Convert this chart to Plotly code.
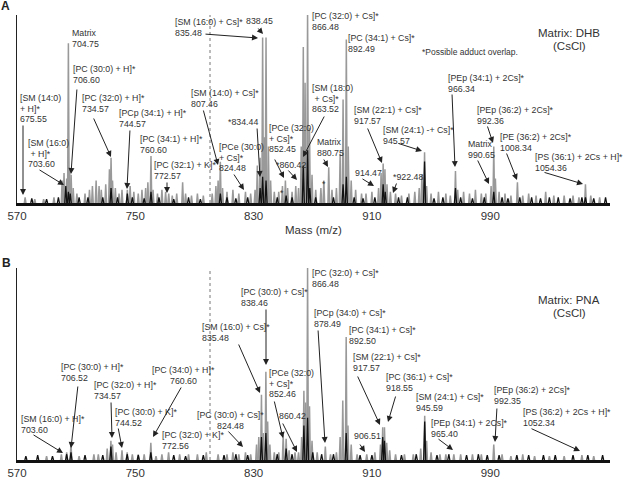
import plotly.graph_objects as go
from plotly.subplots import make_subplots

# ---------------- data ----------------
tick_vals = [670, 750, 830, 910, 990, 1071]
tick_text = ["570", "750", "830", "910", "990", "1,071"]

# Panel A (DHB) - grey spectrum peaks
a_gray_mz = [675.5, 682, 688, 695, 700.5, 701.8, 703.6, 704.75, 705.6, 706.6, 708, 710.5,
             716, 719, 721, 723.5, 725.5, 727, 730, 732.5, 733.6, 734.6, 736.5, 739, 741, 744.6,
             746.5, 749, 752, 754.5, 757, 758.5, 760.6, 762, 765, 768, 770.5, 772.6, 775, 778,
             782, 784, 788, 792, 796, 802, 804.5, 806, 807.5, 809, 812, 816, 820, 824.5, 828,
             831, 832.5, 834.4, 836.1, 837.2, 838.4, 840, 841.5, 844, 847, 849.5, 851.5, 853,
             856, 858.5, 860.4, 862.2, 863.6, 864.8, 866.5, 867.8, 869.5, 872, 875.5, 877.5,
             880.8, 883, 886, 888.5, 890.5, 892.7, 894, 896, 899, 903, 906, 910, 914.5, 916.2,
             917.6, 918.8, 920.2, 922.5, 926, 930, 935, 939, 942, 943.8, 945.6, 947, 950, 955,
             960, 963, 966.5, 968, 972, 976, 980, 984, 987, 990.6, 992.4, 993.5, 996, 1000,
             1004, 1008.4, 1012, 1016, 1021, 1027.5, 1033, 1040, 1046, 1050, 1054.4, 1058, 1064]
a_gray_int = [3, 2, 2, 3, 12, 16, 13, 85, 18, 15, 8, 5,
              5, 7, 9, 12, 9, 7, 10, 18, 24, 12, 8, 5, 7, 7,
              9, 6, 5, 7, 8, 11, 25, 7, 5, 7, 6, 5, 4, 5,
              11, 5, 4, 5, 4, 5, 9, 12, 22, 8, 6, 7, 5, 6, 5,
              7, 20, 24, 88, 35, 88, 30, 12, 6, 6, 9, 12, 8,
              6, 9, 8, 30, 83, 64, 103, 40, 15, 7, 8, 12,
              19, 7, 8, 26, 55, 87, 30, 12, 7, 5, 5, 6, 8, 16,
              21, 18, 10, 6, 5, 4, 5, 6, 8, 15, 27, 9, 5, 6,
              5, 4, 17, 7, 6, 5, 7, 5, 5, 9, 30, 13, 6, 5,
              4, 11, 4, 5, 4, 6, 4, 4, 4, 3, 10, 4, 3]

# Panel A - black spectrum peaks
a_black_mz = [680, 690, 698, 703, 704.75, 706, 712, 718, 728, 733.6, 738, 744.6, 748, 756,
              760.6, 766, 776, 786, 794, 807.5, 812, 818, 826, 834.4, 836.1, 838.4, 846, 852,
              856, 863.6, 866.5, 868, 872, 884, 890.5, 892.7, 898, 904, 912, 917.6, 919, 928,
              934, 945.6, 952, 958, 966.5, 970, 978, 986, 992.4, 998, 1002, 1010, 1018, 1024,
              1030, 1036, 1044, 1052, 1054.4, 1060, 1068]
a_black_int = [2.5, 2, 3, 9, 6, 5, 3, 3, 3, 8, 3, 5, 3, 2.5,
               6, 3, 2, 3, 2, 5, 3, 2.5, 3, 8, 14, 12, 3, 4,
               3, 20, 28, 8, 3, 3, 10, 14, 3, 2.5, 3, 10, 6, 3,
               3, 22, 2.5, 3, 8, 3, 2.5, 3, 6, 3, 2.5, 3, 3, 2.5,
               3, 3, 2.5, 3, 3, 2.5, 3]

# Panel B (PNA) - grey spectrum peaks
b_gray_mz = [690, 700, 703.6, 706.5, 712, 722, 725, 731, 733.5, 734.6, 737, 741, 744.5, 748,
             752, 756, 760.5, 764, 768, 772.5, 780, 786, 792, 798, 806, 812, 816, 820, 824.5,
             828, 832, 833.5, 835.3, 836.5, 838.3, 839.5, 841, 844, 847, 850, 852, 854, 858,
             860.4, 862.5, 864, 865.2, 866.5, 867.8, 869.5, 873, 878.5, 882, 886, 888.5, 890.3,
             892.6, 893.8, 896, 900, 906.5, 912, 915.8, 917.3, 918.5, 920, 922, 926, 932, 938,
             943, 945.7, 947, 950, 956, 960, 965.4, 970, 978, 984, 992.4, 998, 1004, 1012,
             1020, 1030, 1040, 1052, 1060]
b_gray_int = [2, 3, 4, 9, 2, 3, 3, 6, 10, 8, 4, 5, 4, 3,
              3, 3, 9, 2, 3, 4, 3, 3, 3, 4, 3, 3, 4, 3, 4,
              3, 8, 12, 34, 14, 46, 20, 8, 4, 4, 13, 11, 5, 4,
              4, 12, 36, 30, 100, 28, 10, 4, 7, 3, 4, 12, 31,
              64, 18, 8, 3, 3, 4, 8, 17, 17, 9, 5, 3, 3, 3,
              6, 23, 10, 4, 3, 3, 3, 3, 3, 3, 8, 3, 2, 3,
              2, 2, 2, 2.5, 2]

# Panel B - black spectrum peaks
b_black_mz = [676, 684, 694, 703.6, 706.5, 716, 728, 733.5, 744.5, 752, 760.5, 776, 784, 796,
              810, 818, 826, 835.3, 838.3, 846, 852, 856, 864, 866.5, 870, 876, 884, 892.6,
              902, 910, 917.3, 918.5, 930, 940, 945.7, 954, 962, 974, 982, 988, 996, 1008,
              1016, 1026, 1034, 1046, 1056, 1066]
b_black_int = [2, 2.5, 2, 3, 4, 2.5, 2.5, 7, 3, 2.5, 4, 2.5, 2, 2.5,
               2.5, 3, 2.5, 12, 14, 3, 6, 3, 18, 22, 4, 3, 3, 14,
               2.5, 2.5, 12, 10, 2.5, 3, 20, 2.5, 3, 2.5, 3, 2.5, 2.5, 2.5,
               2.5, 2.5, 2.5, 2.5, 2.5, 2.5]

# Peak annotation texts (one list entry per text line)
a_label_text = [
    ["[SM (14:0)", "+ H]*", "675.55"],
    ["Matrix", "704.75"],
    ["[PC (30:0) + H]*", "706.60"],
    ["[SM (16:0)", " + H]*", "703.60"],
    ["[PC (32:0) + H]*", "734.57"],
    ["[PCp (34:1) + H]*", "744.57"],
    ["[PC (34:1) + H]*", "760.60"],
    ["[PC (32:1) + K]*", "772.57"],
    ["[SM (16:0) + Cs]*", "835.48"],
    ["[PC (30:0) + Cs]*", "838.45"],
    ["[PC (32:0) + Cs]*", "866.48"],
    ["[PC (34:1) + Cs]*", "892.49"],
    ["[SM (14:0) + Cs]*", "807.46"],
    ["*834.44"],
    ["[PCe (30:0)", "+ Cs]*", "824.48"],
    ["[PCe (32:0)", "+ Cs]*", "852.45"],
    ["*860.42"],
    ["[SM (18:0)", " + Cs]*", "863.52"],
    ["Matrix", "880.75"],
    ["[SM (22:1) + Cs]*", "917.57"],
    ["914.47"],
    ["*922.48"],
    ["[SM (24:1) -+ Cs]*", "945.57"],
    ["[PEp (34:1) + 2Cs]*", "966.34"],
    ["[PEp (36:2) + 2Cs]*", "992.36"],
    ["Matrix", "990.65"],
    ["[PE (36:2) + 2Cs]*", "1008.34"],
    ["[PS (36:1) + 2Cs + H]*", "1054.36"],
    ["*"],
    ["*"],
]
b_label_text = [
    ["[SM (16:0) + H]*", "703.60"],
    ["[PC (30:0) + H]*", "706.52"],
    ["[PC (32:0) + H]*", "734.57"],
    ["[PC (30:0) + K]*", "744.52"],
    ["[PC (34:0) + H]*", "760.60"],
    ["[PC (32:0) + K]*", "772.56"],
    ["[PC (30:0) + Cs]*", "824.48"],
    ["[SM (16:0) + Cs]*", "835.48"],
    ["[PC (30:0) + Cs]*", "838.46"],
    ["[PCe (32:0)", "+ Cs]*", "852.46"],
    ["860.42"],
    ["[PC (32:0) + Cs]*", "866.48"],
    ["[PCp (34:0) + Cs]*", "878.49"],
    ["[PC (34:1) + Cs]*", "892.50"],
    ["[SM (22:1) + Cs]*", "917.57"],
    ["[PC (36:1) + Cs]*", "918.55"],
    ["906.51"],
    ["[SM (24:1) + Cs]*", "945.59"],
    ["[PEp (34:1) + 2Cs]*", "965.40"],
    ["[PEp (36:2) + 2Cs]*", "992.35"],
    ["[PS (36:2) + 2Cs + H]*", "1052.34"],
]

# ---------------- layout (pixel placement of labels) ----------------
# (x_px, first_line_y_px, anchor, arrow_tail_px or None, arrow_head_px or None)
a_label_pos = [
    (19, 98, "left", (23, 124), (23, 195)),
    (71, 33, "left", None, None),
    (72, 69, "left", (77, 88), (71, 174)),
    (27, 143, "left", (38, 169), (64, 185)),
    (81, 98, "left", (93, 117), (111, 157)),
    (118, 113, "left", (130, 129), (127, 189)),
    (139, 139, "left", None, None),
    (153, 165, "left", (167, 181), (167, 193)),
    (174, 22, "left", (204, 34), (258, 38)),
    (245, 10, "left", (257, 27), (263, 34)),
    (311, 16, "left", None, None),
    (347, 38, "left", None, None),
    (190, 93, "left", (203, 109), (218, 165)),
    (227, 122, "left", (257, 127), (260, 177)),
    (218, 147, "left", (233, 173), (244, 190)),
    (268, 128, "left", (274, 158), (284, 178)),
    (275, 165, "left", (287, 169), (297, 180)),
    (311, 88, "left", (325, 115), (303, 157)),
    (316, 142, "left", (323, 158), (328, 167)),
    (353, 110, "left", (367, 127), (382, 163)),
    (354, 173, "left", (361, 178), (374, 186)),
    (392, 177, "left", (397, 182), (393, 193)),
    (382, 130, "left", (397, 143), (422, 151)),
    (447, 78, "left", (452, 93), (455, 167)),
    (476, 110, "left", (487, 125), (493, 143)),
    (467, 144, "left", (477, 159), (489, 184)),
    (499, 137, "left", (506, 152), (517, 180)),
    (534, 157, "left", (543, 172), (583, 184)),
    (279, 193, "left", None, None),
    (321, 184, "left", None, None),
]
b_label_pos = [
    (20, 419, "left", (32, 434), (63, 453)),
    (60, 367, "left", (78, 385), (71, 448)),
    (93, 385, "left", (111, 401), (112, 438)),
    (114, 412, "left", (118, 427), (122, 448)),
    (183, 370, "center", (182, 386), (153, 437)),
    (161, 435, "left", None, None),
    (230, 415, "center", (227, 430), (243, 447)),
    (201, 327, "left", (238, 343), (260, 393)),
    (240, 292, "left", (266, 308), (266, 365)),
    (268, 373, "left", (274, 400), (283, 438)),
    (278, 416, "left", (282, 422), (297, 452)),
    (311, 273, "left", None, None),
    (313, 313, "left", (318, 329), (325, 443)),
    (348, 330, "left", None, None),
    (352, 357, "left", (357, 375), (380, 425)),
    (385, 377, "left", (396, 395), (388, 422)),
    (353, 436, "left", (359, 443), (365, 452)),
    (415, 397, "left", None, None),
    (430, 423, "left", (437, 438), (453, 450)),
    (493, 390, "left", (497, 407), (495, 442)),
    (522, 412, "left", (530, 428), (580, 451)),
]

FONT = "Liberation Sans, Arial, Helvetica, sans-serif"
TXT = "#333333"
W, H = 623, 478
X0, X1 = 17, 610            # x-axis pixel extent
XMIN, XMAX = 670, 1071
A_BASE, A_TOP = 203, 15
B_BASE, B_TOP = 460, 268
ML, MR, MT, MB = X0, W - X1, A_TOP, H - B_BASE
PH = H - MT - MB


def xd(px):
    return XMIN + (px - X0) * (XMAX - XMIN) / (X1 - X0)


def yA(py):
    return (A_BASE - py) * 100.0 / (A_BASE - A_TOP)


def yB(py):
    return (B_BASE - py) * 100.0 / (B_BASE - B_TOP)


def sticks(mz, inten, hw=0.45):
    xs, ys = [], []
    for m, h in zip(mz, inten):
        xs += [m - hw, m, m + hw, None]
        ys += [0, h, 0, None]
    return xs, ys


fig = make_subplots(rows=2, cols=1)

for (gm, gi, bm, bi, row) in [(a_gray_mz, a_gray_int, a_black_mz, a_black_int, 1),
                              (b_gray_mz, b_gray_int, b_black_mz, b_black_int, 2)]:
    xs, ys = sticks(gm, gi, hw=0.55)
    fig.add_trace(go.Scatter(x=xs, y=ys, mode="lines", line=dict(color="#999999", width=1.5),
                             hoverinfo="skip", showlegend=False), row=row, col=1)
    xs, ys = sticks(bm, bi, hw=0.7)
    fig.add_trace(go.Scatter(x=xs, y=ys, mode="lines", line=dict(color="#111111", width=1.3),
                             hoverinfo="skip", showlegend=False), row=row, col=1)

axis_common = dict(range=[XMIN, XMAX], tickvals=tick_vals, ticktext=tick_text,
                   showgrid=False, zeroline=False, showline=True, linecolor="#111111",
                   linewidth=3, ticks="", automargin=False,
                   tickfont=dict(family=FONT, size=11.5, color=TXT))
fig.update_xaxes(**axis_common)
ycommon = dict(range=[0, 100], showgrid=False, zeroline=False, showticklabels=False,
               ticks="", showline=True, linecolor="#222222", linewidth=1, automargin=False)
fig.update_yaxes(**ycommon)
fig.update_layout(
    xaxis=dict(domain=[0, 1], anchor="y"),
    yaxis=dict(domain=[(B_BASE - A_BASE) / PH, 1.0], anchor="x"),
    xaxis2=dict(domain=[0, 1], anchor="y2"),
    yaxis2=dict(domain=[0, (B_BASE - B_TOP) / PH], anchor="x2"),
)

annotations = []
LS = 10.5
LABEL_SIZE = 8.8


def add_labels(texts, positions, xr, yr, yconv):
    for lines, (px, py, anchor, tail, head) in zip(texts, positions):
        for i, line in enumerate(lines):
            annotations.append(dict(
                x=xd(px), y=yconv(py + i * LS), xref=xr, yref=yr, text=line,
                showarrow=False, xanchor=anchor, yanchor="middle", borderpad=0,
                font=dict(family=FONT, size=LABEL_SIZE, color=TXT)))
        if tail is not None:
            annotations.append(dict(
                x=xd(head[0]), y=yconv(head[1]), ax=xd(tail[0]), ay=yconv(tail[1]),
                xref=xr, yref=yr, axref=xr, ayref=yr, text="", showarrow=True,
                arrowhead=2, arrowsize=1.2, arrowwidth=1, arrowcolor="#222222",
                standoff=0, startstandoff=0))


add_labels(a_label_text, a_label_pos, "x", "y", yA)
add_labels(b_label_text, b_label_pos, "x2", "y2", yB)


def ptext(text, px, py, size, anchor="center", bold=False):
    annotations.append(dict(
        x=(px - ML) / (W - ML - MR), y=(B_BASE - py) / PH, xref="paper", yref="paper",
        text=("<b>%s</b>" % text) if bold else text, showarrow=False,
        xanchor=anchor, yanchor="middle", borderpad=0,
        font=dict(family=FONT, size=size, color="#222222" if bold else TXT)))


ptext("Matrix: DHB", 569, 33, 11.5)
ptext("(CsCl)", 569, 46, 11.5)
ptext("*Possible adduct overlap.", 421, 52, 8.5, anchor="left")
ptext("Matrix: PNA", 569, 300, 11.5)
ptext("(CsCl)", 569, 313, 11.5)
ptext("Mass (m/z)", 313, 230, 11.5)
ptext("A", 5, 6, 12, bold=True)
ptext("B", 6, 263, 12, bold=True)

shapes = []
for xr, yr in [("x", "y domain"), ("x2", "y2 domain")]:
    shapes.append(dict(type="line", xref=xr, yref=yr, x0=xd(210), x1=xd(210), y0=0, y1=1,
                       line=dict(color="#777777", width=1, dash="dot")))

fig.update_layout(
    width=W, height=H, margin=dict(l=ML, r=MR, t=MT, b=MB, autoexpand=False),
    paper_bgcolor="white", plot_bgcolor="white", showlegend=False,
    annotations=annotations, shapes=shapes,
    font=dict(family=FONT, color=TXT),
)

fig.write_html("out.html", config={"displayModeBar": False, "staticPlot": True},
               post_script="document.body.style.margin='0px';document.body.style.overflow='hidden';")
